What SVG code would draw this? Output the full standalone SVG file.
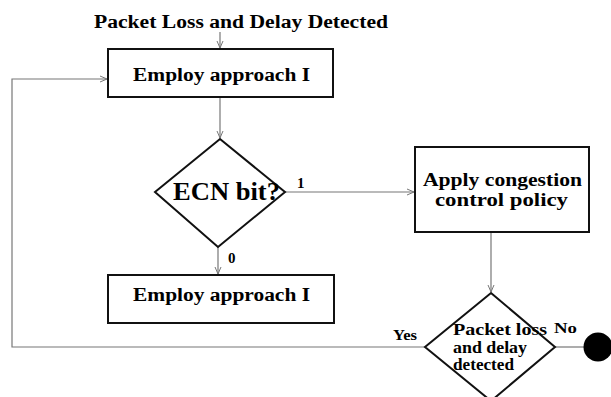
<svg xmlns="http://www.w3.org/2000/svg" width="611" height="397" viewBox="0 0 611 397">
<defs>
<marker id="arr" markerWidth="10" markerHeight="10" refX="8" refY="4" orient="auto" markerUnits="userSpaceOnUse">
<path d="M1,1 L8,4 L1,7" fill="none" stroke="#777" stroke-width="1"/>
</marker>
<style>
.t{font-family:"Liberation Serif","Times New Roman",serif;font-weight:bold;fill:#000;}
.box{fill:#fff;stroke:#111;stroke-width:2;}
.c{fill:none;stroke:#777;stroke-width:1.2;}
</style>
</defs>
<rect width="611" height="397" fill="#fff"/>
<text class="t" x="94" y="27.5" font-size="18" textLength="294" lengthAdjust="spacingAndGlyphs">Packet Loss and Delay Detected</text>
<g id="connectors">
<path class="c" d="M220,32 V48" marker-end="url(#arr)"/>
<path class="c" d="M220,97 V138" marker-end="url(#arr)"/>
<path class="c" d="M285,192 H414" marker-end="url(#arr)"/>
<path class="c" d="M218,247 V274" marker-end="url(#arr)"/>
<path class="c" d="M491,232 V292" marker-end="url(#arr)"/>
<path class="c" d="M425,347 H12 V79 H107" marker-end="url(#arr)"/>
<path class="c" d="M555,347 H584"/>
</g>
<g id="n1">
<rect class="box" x="108" y="49" width="225" height="48"/>
<text class="t" x="133" y="80.5" font-size="18.5" textLength="177" lengthAdjust="spacingAndGlyphs">Employ approach I</text>
</g>
<g id="n2">
<polygon class="box" points="220,139 285,192 218,247 155,192"/>
<text class="t" x="173" y="200" font-size="26" textLength="107" lengthAdjust="spacingAndGlyphs">ECN bit?</text>
</g>
<g id="n3">
<rect class="box" x="415" y="147" width="174" height="85"/>
<text class="t" x="423" y="185.5" font-size="19" textLength="159" lengthAdjust="spacingAndGlyphs">Apply congestion</text>
<text class="t" x="435" y="205.5" font-size="19" textLength="133" lengthAdjust="spacingAndGlyphs">control policy</text>
</g>
<g id="n4">
<rect class="box" x="108" y="275" width="226" height="48"/>
<text class="t" x="133" y="301" font-size="18.5" textLength="177" lengthAdjust="spacingAndGlyphs">Employ approach I</text>
</g>
<g id="n5">
<polygon class="box" points="491,293 555,347 491,401 425,347"/>
<text class="t" x="453" y="335" font-size="16" textLength="94" lengthAdjust="spacingAndGlyphs">Packet loss</text>
<text class="t" x="453" y="353" font-size="16" textLength="74" lengthAdjust="spacingAndGlyphs">and delay</text>
<text class="t" x="453" y="370" font-size="16" textLength="61" lengthAdjust="spacingAndGlyphs">detected</text>
</g>
<g id="n6">
<ellipse cx="598" cy="347" rx="14.5" ry="14.5" fill="#000"/>
</g>
<text class="t" x="297" y="187.5" font-size="15">1</text>
<text class="t" x="228" y="263" font-size="15">0</text>
<text class="t" x="393" y="340" font-size="15" textLength="24" lengthAdjust="spacingAndGlyphs">Yes</text>
<text class="t" x="554" y="333" font-size="15" textLength="23" lengthAdjust="spacingAndGlyphs">No</text>
</svg>
